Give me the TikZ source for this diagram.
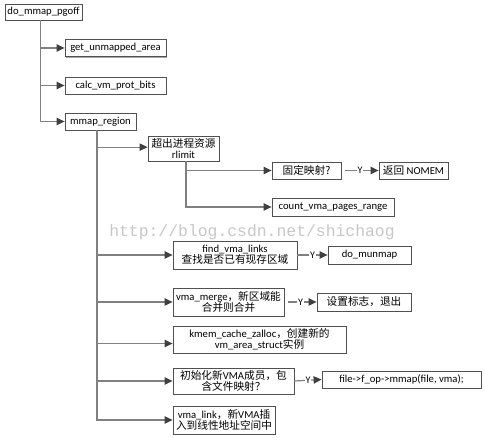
\documentclass[tikz,border=0pt]{standalone}
\usepackage{fontspec}
\setmainfont{Carlito}
\newfontfamily\zh{Noto Sans CJK SC}
\newfontfamily\wmfont{Liberation Mono}
\usetikzlibrary{arrows.meta,shadows}
\definecolor{linegray}{HTML}{808080}
\definecolor{tipgray}{HTML}{404040}
\definecolor{boxgray}{HTML}{505050}
\begin{document}
\begin{tikzpicture}[x=0.75pt,y=-0.75pt,
  box/.style={draw=boxgray,line width=0.6pt,fill=white,inner sep=0pt,align=center,
    font=\fontsize{8}{10}\selectfont,
    drop shadow={shadow xshift=1.1pt,shadow yshift=-1.1pt,fill=black!35,opacity=1}},
  conn/.style={draw=linegray,line width=0.9pt,-{Triangle[length=6pt,width=5.5pt,fill=tipgray,color=tipgray]}},
  ylab/.style={fill=white,inner sep=0.6pt,font=\fontsize{7.5}{8}\selectfont,text=black}]
\useasboundingbox (0,0) rectangle (485,438);
\node[text=black!22,font=\wmfont\fontsize{12.3}{14}\selectfont] (wm) at (252,232) {http://blog.csdn.net/shichaog};

\node[box,minimum width=77*0.75pt,minimum height=16*0.75pt] (top) at (43.5,12) {do\_mmap\_pgoff};
\node[box,minimum width=101*0.75pt,minimum height=17*0.75pt] (gua) at (115.5,48) {get\_unmapped\_area};
\node[box,minimum width=101*0.75pt,minimum height=17*0.75pt] (calc) at (115.5,85.5) {calc\_vm\_prot\_bits};
\node[box,minimum width=71*0.75pt,minimum height=17*0.75pt] (mr) at (100.5,121.5) {mmap\_region};
\node[box,minimum width=71*0.75pt,minimum height=25*0.75pt] (rl) at (183.5,148.5) {{\zh 超出进程资源}\\[-2pt]rlimit};
\node[box,minimum width=69*0.75pt,minimum height=17*0.75pt] (fix) at (306.5,170.5) {\zh 固定映射?};
\node[box,minimum width=69*0.75pt,minimum height=17*0.75pt] (nomem) at (413.5,170.5) {{\zh 返回} NOMEM};
\node[box,minimum width=122*0.75pt,minimum height=18*0.75pt] (cnt) at (333,207) {count\_vma\_pages\_range};
\node[box,minimum width=124*0.75pt,minimum height=28*0.75pt] (fvl) at (235,255) {find\_vma\_links\\[-2pt]{\zh 查找是否已有现存区域}};
\node[box,minimum width=83*0.75pt,minimum height=18*0.75pt] (mun) at (369.5,255) {do\_munmap};
\node[box,minimum width=111*0.75pt,minimum height=28*0.75pt] (merge) at (228.5,302) {vma\_merge{\zh ，新区域能}\\[-2pt]{\zh 合并则合并}};
\node[box,minimum width=94*0.75pt,minimum height=18*0.75pt] (flag) at (364,302) {\zh 设置标志，退出};
\node[box,minimum width=173*0.75pt,minimum height=27*0.75pt] (kmem) at (259.5,339.5) {kmem\_cache\_zalloc{\zh ，创建新的}\\[-2pt]vm\_area\_struct{\zh 实例}};
\node[box,minimum width=121*0.75pt,minimum height=26*0.75pt] (init) at (233.5,381) {{\zh 初始化新}VMA{\zh 成员，包}\\[-2pt]{\zh 含文件映射？}};
\node[box,minimum width=159*0.75pt,minimum height=17*0.75pt] (file) at (401.5,379.5) {file->f\_op->mmap(file, vma);};
\node[box,minimum width=102*0.75pt,minimum height=28*0.75pt] (link) at (224,420) {vma\_link{\zh ，新}VMA{\zh 插}\\[-2pt]{\zh 入到线性地址空间中}};

\coordinate (j0) at (40.7,20);
\coordinate (j1) at (97,130);
\coordinate (j2) at (186,161);

\draw[conn] (j0) |- (gua.west);
\draw[conn] (j0) |- (calc.west);
\draw[conn] (j0) |- (mr.west);

\draw[conn] (j1) |- ([yshift=1pt]rl.west);
\draw[conn] (j1) |- (fvl.west);
\draw[conn] (j1) |- (merge.west);
\draw[conn] (j1) |- ([yshift=-3pt]kmem.west);
\draw[conn] (j1) |- (init.west);
\draw[conn] (j1) |- (link.west);

\draw[conn] (j2) |- (fix.west);
\draw[conn] (j2) |- (cnt.west);

\draw[conn,shorten <=3pt] (fix.east) -- node[ylab]{Y} (nomem.west);
\draw[conn] (fvl.east) -- node[ylab]{Y} (mun.west);
\draw[conn,shorten <=3pt] (merge.east) -- node[ylab]{Y} (flag.west);
\draw[conn] (init.east) -- node[ylab]{Y} (file.west);
\end{tikzpicture}
\end{document}
